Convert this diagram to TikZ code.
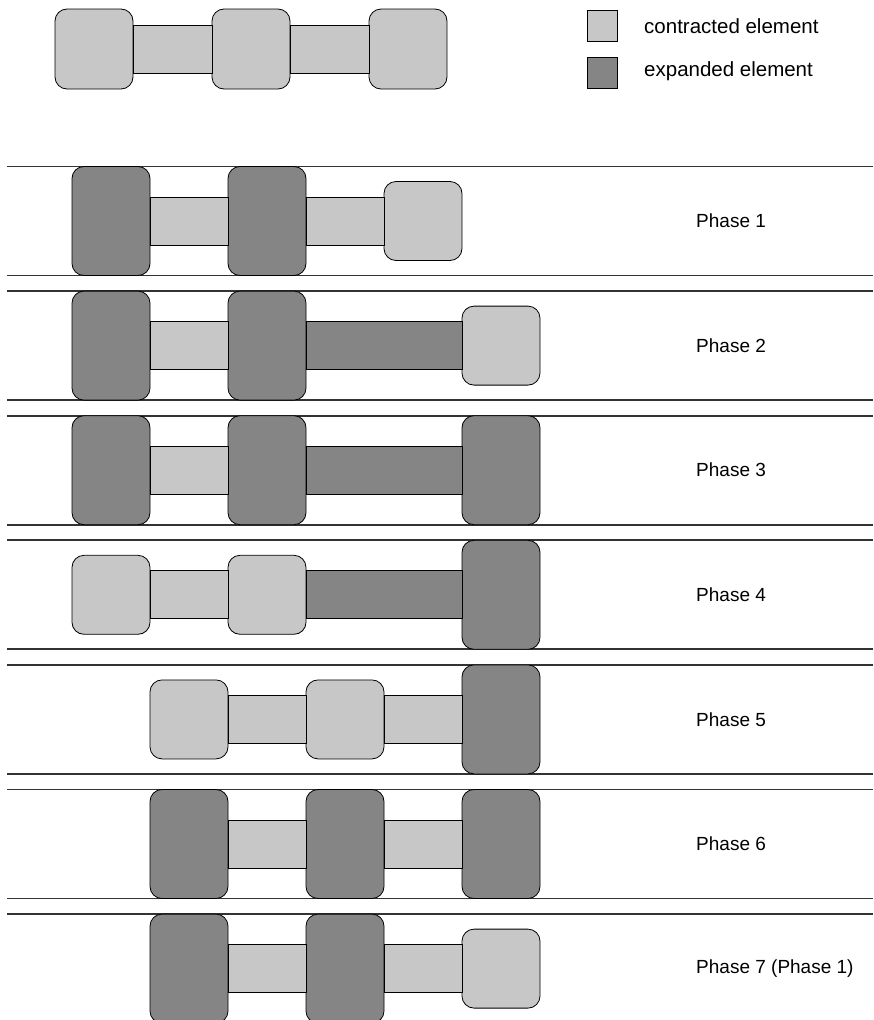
\documentclass[tikz,border=0pt]{standalone}
\usepackage{fontspec}
\setsansfont{Liberation Sans}
\usepackage{xcolor}
\usepackage{tikz}

\definecolor{lgray}{gray}{0.78}
\definecolor{dgray}{gray}{0.52}

\begin{document}
\begin{tikzpicture}[x=1pt,y=-1pt,
    contr/.style={draw=black,line width=0.8pt,fill=lgray,rounded corners=12pt,minimum width=78pt,minimum height=79pt,inner sep=0pt,outer sep=0pt},
    expnd/.style={contr,fill=dgray,minimum height=109pt},
    link/.style={draw=black,line width=0.8pt,fill=lgray},
    linkx/.style={link,fill=dgray},
    rail/.style={draw=black!80,line width=1.7pt},
    lbl/.style={font=\sffamily\fontsize{19}{22}\selectfont,anchor=west,inner sep=0pt}]
  \useasboundingbox (0,0) rectangle (873,1020);
  % resting worm and legend
  \node[contr,minimum height=80pt] (t1) at (94,49) {};
  \node[contr,minimum height=80pt] (t2) at (251,49) {};
  \node[contr,minimum height=80pt] (t3) at (408,49) {};
  \draw[link] ([yshift=24pt]t1.east) rectangle ([yshift=-24pt]t2.west);
  \draw[link] ([yshift=24pt]t2.east) rectangle ([yshift=-24pt]t3.west);
  \node[draw=black,line width=1.3pt,fill=lgray,minimum width=30pt,minimum height=31pt,inner sep=0pt] (keyc) at (602.5,26) {};
  \node[draw=black,line width=1.3pt,fill=dgray,minimum width=30pt,minimum height=31pt,inner sep=0pt] (keye) at (602.5,73) {};
  \node[lbl,font=\sffamily\fontsize{20.5}{22}\selectfont] (keyct) at (644,26) {contracted element};
  \node[lbl,font=\sffamily\fontsize{20.5}{22}\selectfont] (keyet) at (644,71) {expanded element};
  % rails and labels
  \foreach \i/\yc/\txt in {1/221/Phase 1,2/345.6/Phase 2,3/470.2/Phase 3,4/594.8/Phase 4,5/719.4/Phase 5,6/844/Phase 6,7/968.6/Phase 7 (Phase 1)}{
    \draw[rail] (7,{\yc-54.5}) -- (873,{\yc-54.5});
    \draw[rail] (7,{\yc+54.5}) -- (873,{\yc+54.5});
    \node[lbl] (p\i) at (696,\yc) {\txt};
  }
  % phase 1
  \node[expnd] (a1) at (111,221) {};
  \node[expnd] (b1) at (267,221) {};
  \node[contr] (c1) at (423,221) {};
  \draw[link] ([yshift=24pt]a1.east) rectangle ([yshift=-24pt]b1.west);
  \draw[link] ([yshift=24pt]b1.east) rectangle ([yshift=-24pt]c1.west);
  % phase 2
  \node[expnd] (a2) at (111,345.6) {};
  \node[expnd] (b2) at (267,345.6) {};
  \node[contr] (c2) at (501,345.6) {};
  \draw[link] ([yshift=24pt]a2.east) rectangle ([yshift=-24pt]b2.west);
  \draw[linkx] ([yshift=24pt]b2.east) rectangle ([yshift=-24pt]c2.west);
  % phase 3
  \node[expnd] (a3) at (111,470.2) {};
  \node[expnd] (b3) at (267,470.2) {};
  \node[expnd] (c3) at (501,470.2) {};
  \draw[link] ([yshift=24pt]a3.east) rectangle ([yshift=-24pt]b3.west);
  \draw[linkx] ([yshift=24pt]b3.east) rectangle ([yshift=-24pt]c3.west);
  % phase 4
  \node[contr] (a4) at (111,594.8) {};
  \node[contr] (b4) at (267,594.8) {};
  \node[expnd] (c4) at (501,594.8) {};
  \draw[link] ([yshift=24pt]a4.east) rectangle ([yshift=-24pt]b4.west);
  \draw[linkx] ([yshift=24pt]b4.east) rectangle ([yshift=-24pt]c4.west);
  % phase 5
  \node[contr] (a5) at (189,719.4) {};
  \node[contr] (b5) at (345,719.4) {};
  \node[expnd] (c5) at (501,719.4) {};
  \draw[link] ([yshift=24pt]a5.east) rectangle ([yshift=-24pt]b5.west);
  \draw[link] ([yshift=24pt]b5.east) rectangle ([yshift=-24pt]c5.west);
  % phase 6
  \node[expnd] (a6) at (189,844) {};
  \node[expnd] (b6) at (345,844) {};
  \node[expnd] (c6) at (501,844) {};
  \draw[link] ([yshift=24pt]a6.east) rectangle ([yshift=-24pt]b6.west);
  \draw[link] ([yshift=24pt]b6.east) rectangle ([yshift=-24pt]c6.west);
  % phase 7
  \node[expnd] (a7) at (189,968.6) {};
  \node[expnd] (b7) at (345,968.6) {};
  \node[contr] (c7) at (501,968.6) {};
  \draw[link] ([yshift=24pt]a7.east) rectangle ([yshift=-24pt]b7.west);
  \draw[link] ([yshift=24pt]b7.east) rectangle ([yshift=-24pt]c7.west);
\end{tikzpicture}
\end{document}
